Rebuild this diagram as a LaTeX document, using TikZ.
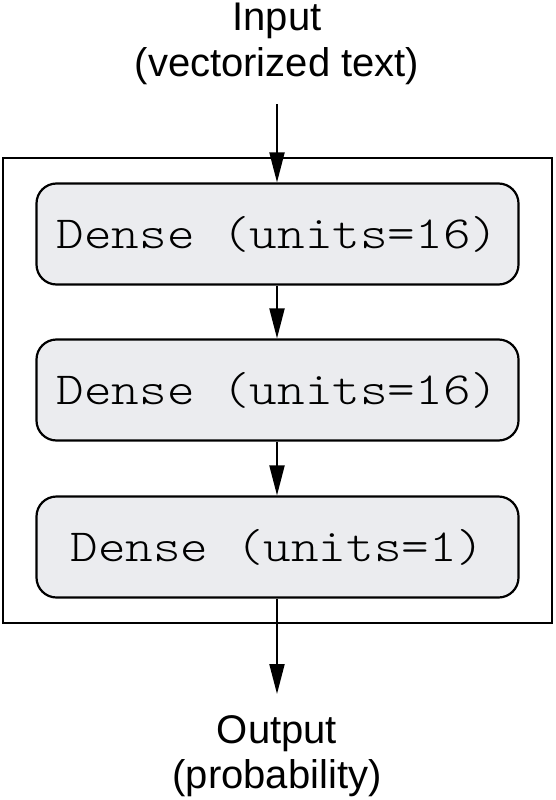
\documentclass[tikz,border=0pt]{standalone}
\usepackage{fontspec}
\setmainfont{Liberation Sans}
\newfontfamily\courfont{lmmonolt10-regular.otf}[FakeStretch=1.143]
\usetikzlibrary{arrows.meta}
\definecolor{boxfill}{RGB}{235,236,239}
\tikzset{
  layer/.style={draw=black, line width=2.2pt, fill=boxfill, rounded corners=20pt,
    minimum width=482pt, minimum height=101pt, inner sep=0pt,
    font=\fontsize{46}{50}\selectfont\courfont},
  label/.style={align=center, inner sep=0pt, font=\fontsize{40}{47}\selectfont},
  flow/.style={line width=2pt, -{Triangle[length=30pt,width=15pt]}}
}
\begin{document}
\begin{tikzpicture}[x=1pt,y=-1pt]
\useasboundingbox (0,0) rectangle (555,800);
\node[draw=black, line width=2pt, minimum width=549pt, minimum height=465pt, inner sep=0pt] (outer) at (277.5,390) {};
\node[label, anchor=base] (in1) at (277,30.5) {Input};
\node[label, anchor=base] (in2) at (277,77) {(vectorized text)};
\coordinate (instart) at (277,104);
\node[layer] (d1) at (277.5,234) {Dense (units=16)};
\node[layer] (d2) at (277.5,390) {Dense (units=16)};
\node[layer] (d3) at (277.5,547) {Dense (units=1)};
\coordinate (outend) at (277,694);
\node[label, anchor=base] (out1) at (277,743) {Output};
\node[label, anchor=base] (out2) at (277,788) {(probability)};
\draw[flow] (instart) -- (d1.north -| instart);
\draw[flow] (d1.south -| instart) -- (d2.north -| instart);
\draw[flow] (d2.south -| instart) -- (d3.north -| instart);
\draw[flow] (d3.south -| instart) -- (outend);
\end{tikzpicture}
\end{document}
